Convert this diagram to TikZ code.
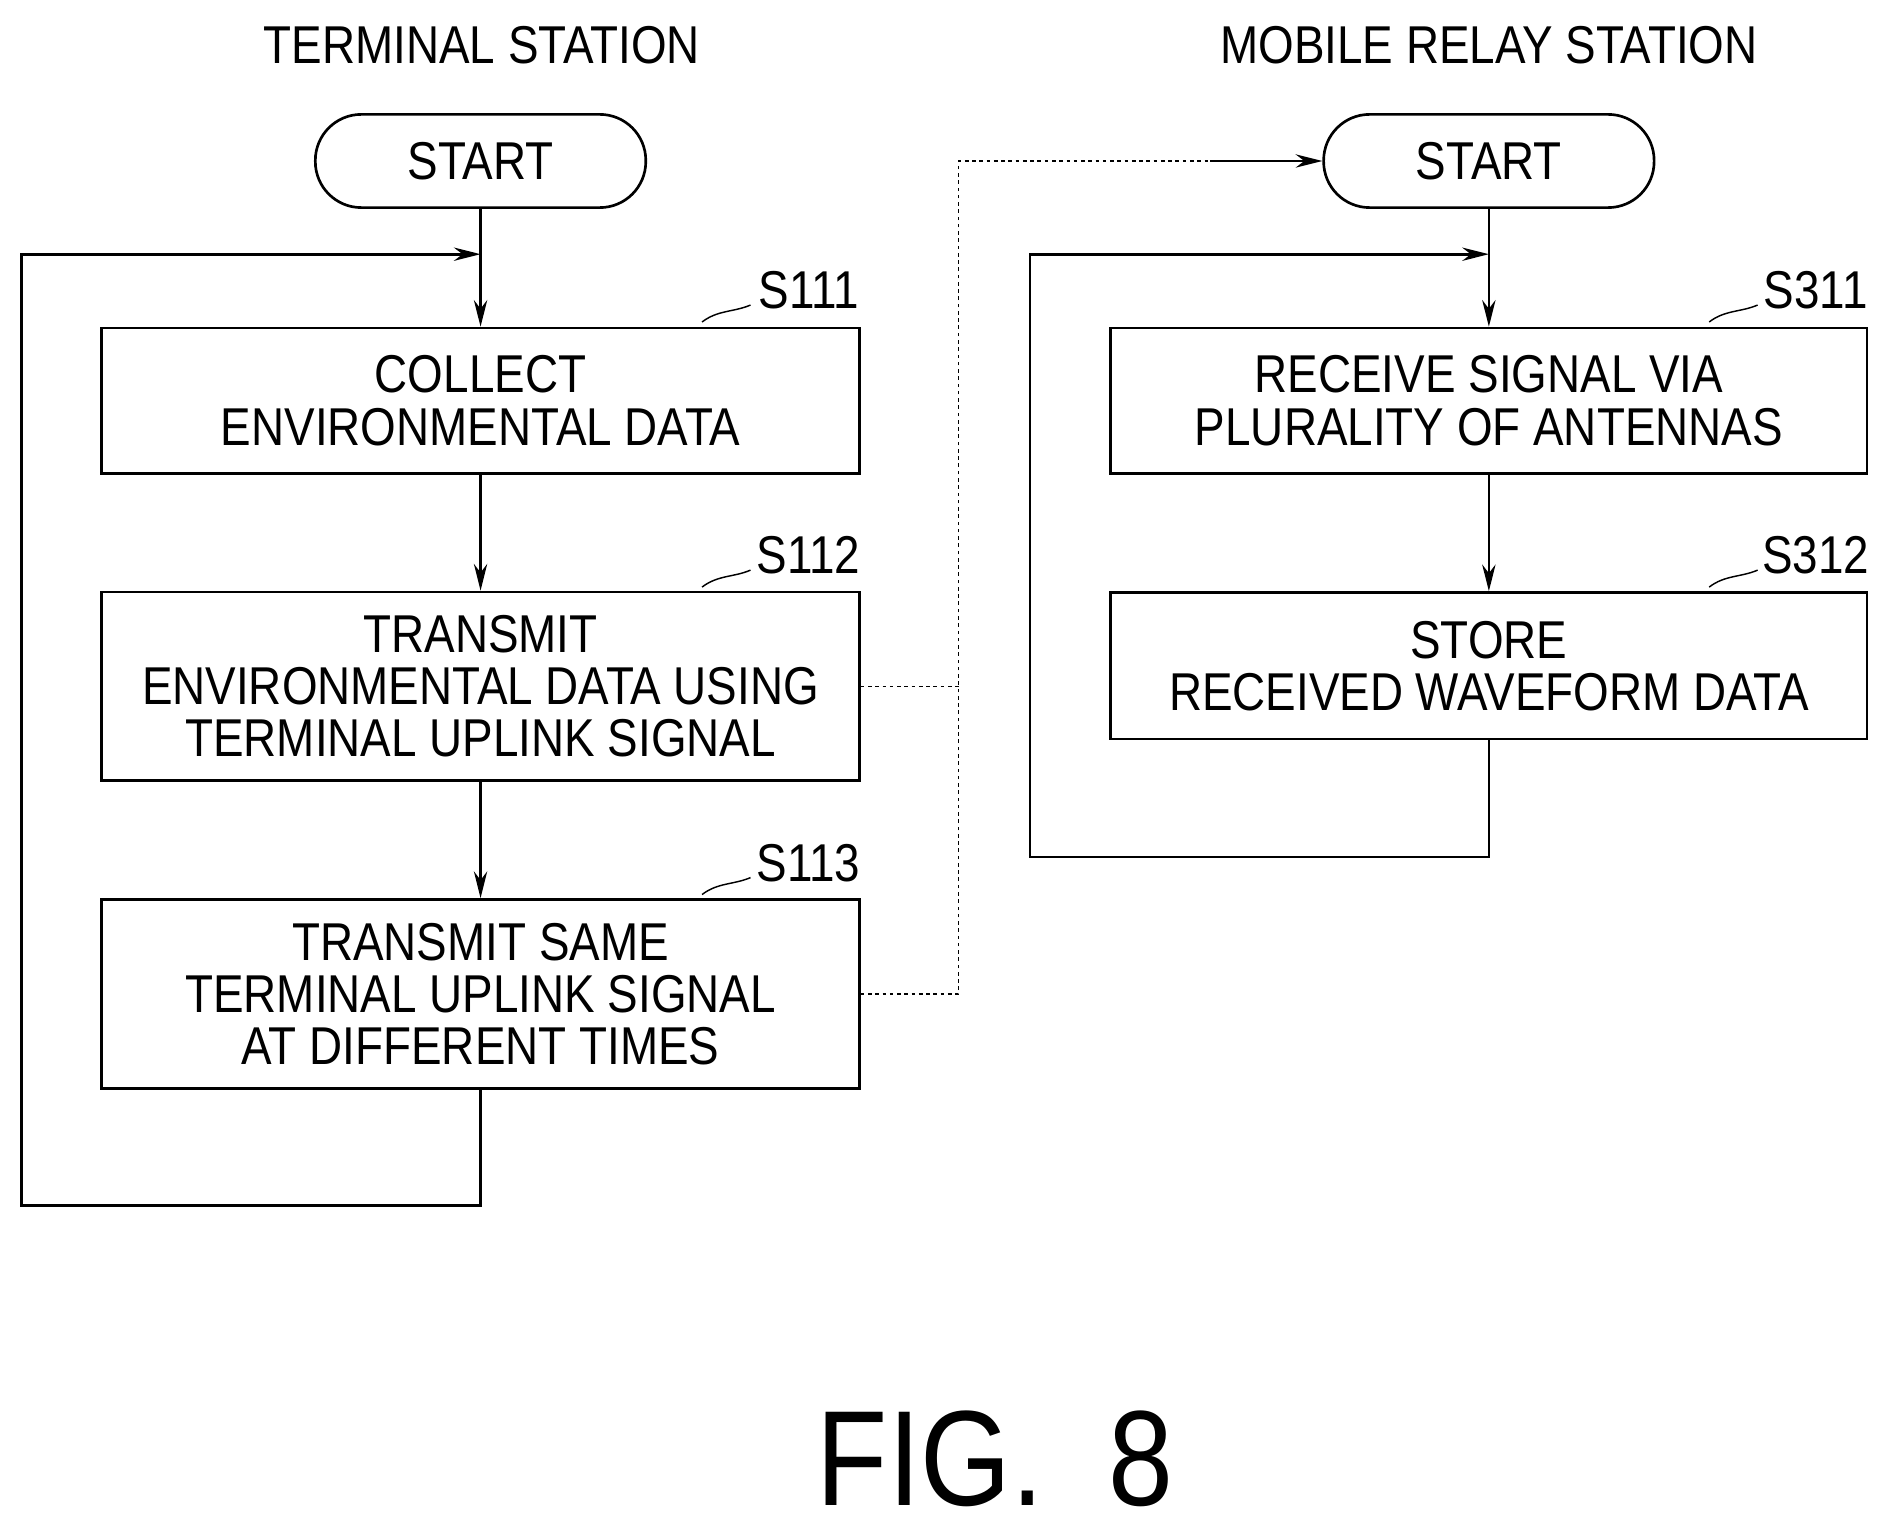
\documentclass[tikz,border=0pt]{standalone}
\usepackage{fontspec}
\setmainfont{Liberation Sans}[FakeStretch=0.86]
\usetikzlibrary{arrows.meta}
\begin{document}
\begin{tikzpicture}[x=1pt,y=-1pt,
  box/.style={draw,line width=2.2pt,minimum width=626pt,align=center,font=\fontsize{44}{43}\selectfont,inner sep=0pt},
  st/.style={draw,line width=2.2pt,rounded corners=38pt,minimum width=273pt,minimum height=77pt,font=\fontsize{44}{44}\selectfont},
  ar/.style={line width=2.2pt,-{Stealth[length=22pt,width=11pt]}},
  ln/.style={line width=2.2pt},
  dl/.style={line width=1.3pt,dash pattern=on 3pt off 3pt},
  lab/.style={font=\fontsize{44}{44}\selectfont},
  tl/.style={line width=1.2pt}]
\useasboundingbox (0,0) rectangle (1568,1266);
\node[lab] (t1) at (398,37) {TERMINAL STATION};
\node[lab] (t2) at (1230,37) {MOBILE RELAY STATION};
\node[st] (s1) at (397,133) {START};
\node[st] (s2) at (1230,133) {START};
\node[box,minimum height=120pt] (a) at (397,331) {COLLECT\\ENVIRONMENTAL DATA};
\node[box,minimum height=156pt] (b) at (397,567) {TRANSMIT\\ENVIRONMENTAL DATA USING\\TERMINAL UPLINK SIGNAL};
\node[box,minimum height=156pt] (c) at (397,821) {TRANSMIT SAME\\TERMINAL UPLINK SIGNAL\\AT DIFFERENT TIMES};
\node[box,minimum width=625pt,minimum height=120pt] (d) at (1230,331) {RECEIVE SIGNAL VIA\\PLURALITY OF ANTENNAS};
\node[box,minimum width=625pt,minimum height=121pt] (e) at (1230,550) {STORE\\RECEIVED WAVEFORM DATA};
\foreach \n/\t/\x/\y in {a/S111/668/240,b/S112/668/459,c/S113/668/713,d/S311/1500/240,e/S312/1500/459}{
  \node[lab] (l\n) at (\x,\y) {\t};
  \draw[tl] (\x-88,\y+26) .. controls (\x-75,\y+16) and (\x-62,\y+18) .. (\x-48,\y+12);
}
\coordinate (j1) at (397,210);
\coordinate (j2) at (1230,210);
\draw[ar] (s1) -- (a);
\draw[ar] (a) -- (b);
\draw[ar] (b) -- (c);
\draw[ar] (s2) -- (d);
\draw[ar] (d) -- (e);
\draw[ln] (c.south) -- (397,996) -- (18,996) -- (18,210) -- (380,210);
\draw[ar] (300,210) -- (j1);
\draw[ln] (e.south) -- (1230,708) -- (851,708) -- (851,210) -- (1200,210);
\draw[ar] (1150,210) -- (j2);
\draw[dl] (b.east) -- (792,567);
\draw[dl] (c.east) -- (792,821) -- (792,133) -- (1060,133);
\draw[ar] (1000,133) -- (s2.west);
\node[font=\fontsize{112}{112}\selectfont] (fig) at (822,1205) {FIG.\ \ 8};
\end{tikzpicture}
\end{document}
